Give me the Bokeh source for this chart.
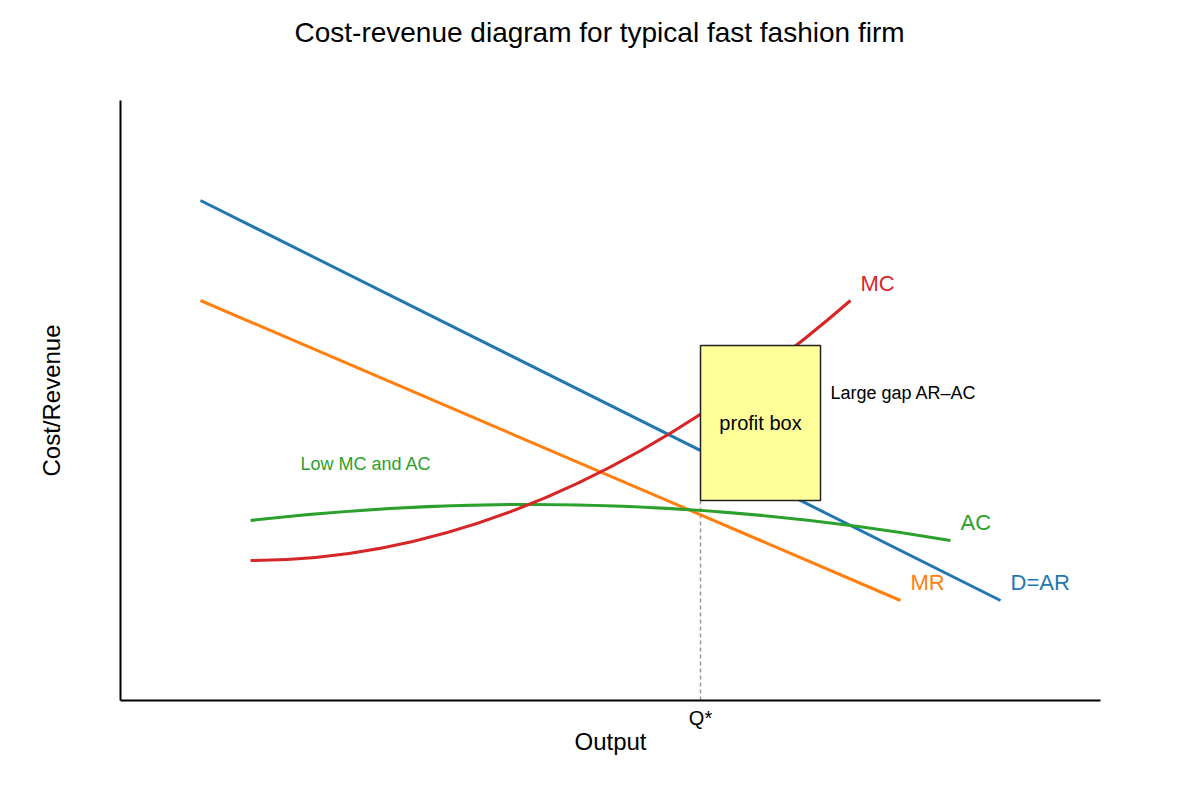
from bokeh.plotting import figure
from bokeh.models import Range1d, LinearAxis, FixedTicker, Title
from bokeh.core.properties import value
from bokeh.embed import file_html
from bokeh.resources import INLINE

# ---- data (diagram units: output 0..980, cost/revenue 0..600) ----
demand_x = [80, 880]
demand_y = [500, 100]
mr_x = [80, 780]
mr_y = [400, 100]
# quadratic curves: start, control, end
ac_start = (130, 180); ac_ctrl = (480, 220); ac_end = (830, 160)
mc_start = (130, 140); mc_ctrl = (430, 140); mc_end = (730, 400)
q_star = 580
box_left, box_right, box_bottom, box_top = 580, 700, 200, 355

curve_labels = ["MC", "AC", "MR", "D=AR"]
curve_label_x = [740, 840, 790, 890]
curve_label_y = [417, 178, 118, 118]
curve_colors = ["#d62728", "#2ca02c", "#ff7f0e", "#1f77b4"]

TITLE = "Cost-revenue diagram for typical fast fashion firm"
FONT = "Liberation Sans"

p = figure(width=1184, height=784, output_backend="svg", toolbar_location=None,
           x_range=Range1d(0, 980), y_range=Range1d(0, 600),
           x_axis_type=None, y_axis_type=None,
           min_border_left=120, min_border_right=84,
           min_border_top=100, min_border_bottom=84)
p.outline_line_color = None
p.xgrid.visible = False
p.ygrid.visible = False

# spacer panel (nearest the frame), then the title above it
spacer = Title(text=" ", standoff=35, text_font_size="1px")
p.add_layout(spacer, "above")
title = Title(text=TITLE, align="left", offset=174, standoff=29,
              text_font=FONT, text_font_size="28px", text_font_style="normal",
              text_color="black")
p.add_layout(title, "above")

xaxis = LinearAxis(ticker=FixedTicker(ticks=[q_star]),
                   major_label_overrides={q_star: "Q*"},
                   axis_label="Output")
xaxis.axis_line_width = 2
xaxis.axis_line_color = "black"
xaxis.major_tick_line_color = None
xaxis.minor_tick_line_color = None
xaxis.major_tick_out = 0
xaxis.major_tick_in = 0
xaxis.major_label_standoff = 6
xaxis.major_label_text_font = FONT
xaxis.major_label_text_font_size = "20px"
xaxis.major_label_text_color = "black"
xaxis.axis_label_text_font = FONT
xaxis.axis_label_text_font_size = "24px"
xaxis.axis_label_text_font_style = "normal"
xaxis.axis_label_text_color = "black"
xaxis.axis_label_standoff = -4
p.add_layout(xaxis, "below")

yaxis = LinearAxis(ticker=FixedTicker(ticks=[]), axis_label="Cost/Revenue")
yaxis.axis_line_width = 2
yaxis.axis_line_color = "black"
yaxis.major_tick_line_color = None
yaxis.minor_tick_line_color = None
yaxis.major_tick_out = 0
yaxis.major_tick_in = 0
yaxis.major_label_text_font_size = "0px"
yaxis.axis_label_text_font = FONT
yaxis.axis_label_text_font_size = "24px"
yaxis.axis_label_text_font_style = "normal"
yaxis.axis_label_text_color = "black"
yaxis.axis_label_standoff = 56
p.add_layout(yaxis, "left")

# dashed Q* line
p.line([q_star, q_star], [0, box_bottom], line_color="#999999", line_width=1.5, line_dash="4 3")

# curves
p.line(demand_x, demand_y, line_color="#1f77b4", line_width=3)
p.line(mr_x, mr_y, line_color="#ff7f0e", line_width=3)
p.quadratic(x0=[ac_start[0]], y0=[ac_start[1]], x1=[ac_end[0]], y1=[ac_end[1]],
            cx=[ac_ctrl[0]], cy=[ac_ctrl[1]], line_color="#2ca02c", line_width=3)
p.quadratic(x0=[mc_start[0]], y0=[mc_start[1]], x1=[mc_end[0]], y1=[mc_end[1]],
            cx=[mc_ctrl[0]], cy=[mc_ctrl[1]], line_color="#d62728", line_width=3)

# profit box
p.quad(left=[box_left], right=[box_right], bottom=[box_bottom], top=[box_top],
       fill_color="#ffff99", line_color="#222222", line_width=1.5)

# texts
p.text(x=curve_label_x, y=curve_label_y, text=curve_labels, text_color=curve_colors,
       text_font=value(FONT), text_font_size="22px", text_baseline="alphabetic", text_align="left")
p.text(x=[(box_left + box_right) / 2], y=[278], text=["profit box"], text_color="black",
       text_font=value(FONT), text_font_size="20px", text_baseline="alphabetic", text_align="center")
p.text(x=[710], y=[308], text=["Large gap AR\u2013AC"], text_color="black",
       text_font=value(FONT), text_font_size="18px", text_baseline="alphabetic", text_align="left")
p.text(x=[180], y=[237], text=["Low MC and AC"], text_color="#2ca02c",
       text_font=value(FONT), text_font_size="18px", text_baseline="alphabetic", text_align="left")

open("out.html", "w").write(file_html(p, INLINE))
